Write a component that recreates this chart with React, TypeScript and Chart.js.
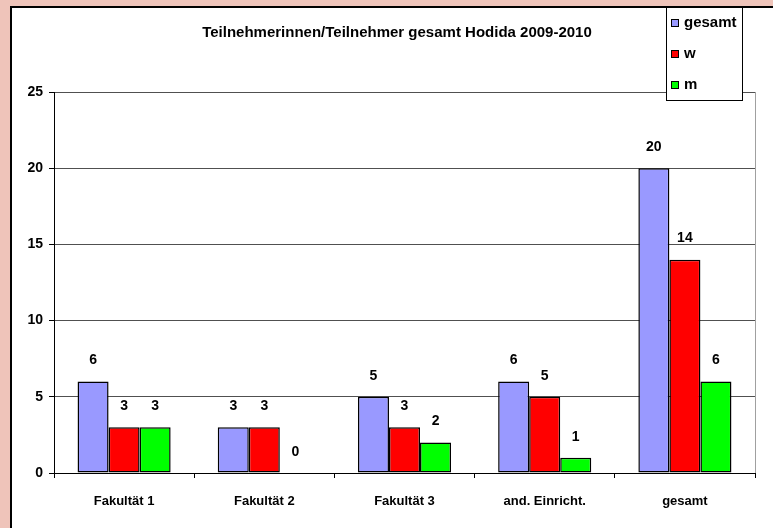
import React, { useEffect, useRef } from "react";
import { Chart, registerables } from "chart.js";

Chart.register(...registerables);

const categories = ["Fakultät 1", "Fakultät 2", "Fakultät 3", "and. Einricht.", "gesamt"];
const gesamtValues = [6, 3, 5, 6, 20];
const wValues = [3, 3, 3, 5, 14];
const mValues = [3, 0, 2, 1, 6];
const seriesNames = ["gesamt", "w", "m"];
const seriesColors = ["#9999FF", "#FF0000", "#00FF00"];
const yMin = 0;
const yMax = 25;
const yStep = 5;
const titleText = "Teilnehmerinnen/Teilnehmer gesamt Hodida 2009-2010";

const FONT = '"Liberation Sans", Arial, sans-serif';

export default function App() {
  const ref = useRef<HTMLCanvasElement | null>(null);

  useEffect(() => {
    document.body.style.margin = "0";
    const canvas = ref.current;
    if (!canvas) return;

    const framePlugin = {
      id: "frame",
      beforeDraw(chart: any) {
        const ctx = chart.ctx;
        const W = chart.width;
        const H = chart.height;
        ctx.save();
        ctx.fillStyle = "#EFC4BA";
        ctx.fillRect(0, 0, W, H);
        ctx.fillStyle = "#FFFFFF";
        ctx.fillRect(12, 8, W - 12, H - 8);
        ctx.fillStyle = "#000000";
        ctx.fillRect(10, 6, 2, H - 6);
        ctx.fillRect(10, 6, W - 10, 2);
        ctx.restore();
      },
      afterDatasetsDraw(chart: any) {
        const ctx = chart.ctx;
        const area = chart.chartArea;
        ctx.save();
        // right border of plot area
        ctx.strokeStyle = "#A0A0A0";
        ctx.lineWidth = 1;
        ctx.beginPath();
        ctx.moveTo(Math.round(area.right) + 0.5, area.top);
        ctx.lineTo(Math.round(area.right) + 0.5, area.bottom);
        ctx.stroke();

        // data labels
        ctx.fillStyle = "#000";
        ctx.font = `bold 14px ${FONT}`;
        ctx.textAlign = "center";
        ctx.textBaseline = "middle";
        chart.data.datasets.forEach((ds: any, di: number) => {
          const meta = chart.getDatasetMeta(di);
          meta.data.forEach((el: any, i: number) => {
            ctx.fillText(String(ds.data[i]), el.x, el.y - 21);
          });
        });

        // title
        ctx.font = `bold 15px ${FONT}`;
        ctx.fillText(titleText, 397, 33);

        // legend
        const lx = 666, ly = 7, lw = 76, lh = 93;
        ctx.fillStyle = "#FFFFFF";
        ctx.fillRect(lx, ly, lw, lh);
        ctx.strokeStyle = "#000";
        ctx.lineWidth = 1;
        ctx.strokeRect(lx + 0.5, ly + 0.5, lw, lh);
        const rowY = [23, 54, 85];
        ctx.font = `bold 15px ${FONT}`;
        seriesNames.forEach((name, i) => {
          const y = rowY[i];
          ctx.fillStyle = seriesColors[i];
          ctx.fillRect(671, y - 4, 8, 8);
          ctx.strokeStyle = "#000";
          ctx.strokeRect(671.5, y - 3.5, 7, 7);
          ctx.fillStyle = "#000";
          ctx.textAlign = "left";
          ctx.fillText(name, 684, y);
        });
        ctx.restore();
      },
    };

    const chart = new Chart(canvas, {
      type: "bar",
      data: {
        labels: categories,
        datasets: [gesamtValues, wValues, mValues].map((vals, i) => ({
          label: seriesNames[i],
          data: vals,
          backgroundColor: seriesColors[i],
          borderColor: "#000000",
          borderWidth: 1.5,
          borderSkipped: false,
          categoryPercentage: 0.664,
          barPercentage: 1,
        })),
      },
      options: {
        responsive: false,
        animation: false,
        events: [],
        layout: { padding: { top: 92, right: 18, left: 0, bottom: 0 } },
        plugins: {
          legend: { display: false },
          title: { display: false },
          tooltip: { enabled: false },
        },
        scales: {
          x: {
            offset: true,
            grid: {
              offset: true,
              drawOnChartArea: false,
              tickLength: 5,
              color: "#000000",
            },
            border: { color: "#000000", width: 1 },
            ticks: {
              color: "#000000",
              font: { family: FONT, size: 13, weight: "bold" },
              padding: 16,
              maxRotation: 0,
            },
            afterFit: (s: any) => {
              s.height = 55;
            },
          },
          y: {
            min: yMin,
            max: yMax,
            grid: {
              color: "#505050",
              tickColor: "#000000",
              tickLength: 5,
            },
            border: { color: "#000000", width: 1 },
            ticks: {
              stepSize: yStep,
              color: "#000000",
              padding: 6,
              font: { family: FONT, size: 14, weight: "bold" },
            },
            afterFit: (s: any) => {
              s.width = 54;
            },
          },
        },
      },
      plugins: [framePlugin],
    } as any);

    return () => chart.destroy();
  }, []);

  return (
    <div style={{ width: 773, height: 528 }}>
      <canvas ref={ref} width={773} height={528} style={{ display: "block" }} />
    </div>
  );
}
